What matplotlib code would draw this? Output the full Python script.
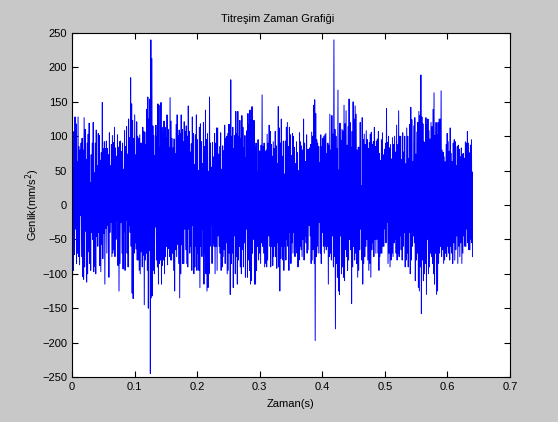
import numpy as np
import matplotlib
matplotlib.use("Agg")
import matplotlib.pyplot as plt

# Upper peaks of the signal (mm/s^2), read left to right
upper = [118, 60, 107, 128, 118, 63, 128, 85, 80, 90, 97, 80, 127, 110, 66, 90, 103, 119, 33, 73,
         90, 120, 47, 90, 109, 57, 104, 101, 65, 76, 149, 82, 92, 82, 93, 82, 73, 105, 57, 88,
         101, 91, 113, 83, 71, 102, 84, 92, 93, 78, 90, 52, 108, 85, 114, 74, 125, 98, 185, 147,
         123, 97, 131, 73, 121, 100, 97, 102, 90, 90, 113, 107, 106, 88, 139, 157, 125, 154, 240, 213,
         115, 101, 72, 116, 100, 147, 145, 84, 149, 113, 104, 122, 113, 98, 131, 110, 84, 156, 122, 97,
         83, 96, 75, 117, 131, 101, 109, 104, 131, 110, 92, 121, 107, 115, 100, 144, 107, 77, 89, 128,
         104, 59, 102, 131, 95, 50, 113, 118, 92, 60, 120, 85, 138, 95, 104, 49, 157, 90, 55, 91,
         70, 104, 90, 112, 112, 74, 85, 105, 52, 86, 79, 116, 97, 100, 104, 117, 117, 182, 100, 113,
         82, 101, 136, 104, 136, 100, 123, 97, 130, 113, 83, 101, 69, 108, 133, 117, 138, 124, 143, 123,
         123, 84, 90, 48, 95, 79, 78, 87, 160, 85, 90, 78, 80, 103, 90, 116, 107, 88, 71, 92,
         82, 107, 86, 60, 143, 112, 90,
         125, 71, 93, 45, 93, 113, 120, 85, 113, 102, 72, 104, 100, 84, 60, 92, 76, 50, 105, 92,
         86, 80, 125, 90, 63, 102, 81, 81, 83, 88, 106, 100, 145, 153, 133, 95, 90, 85, 62, 102,
         85, 97, 100, 102, 104, 75, 90, 87, 132, 80, 130, 103, 240, 110, 100, 82, 167, 51, 119, 94,
         110, 108, 145, 118, 137, 87, 114, 154, 120, 84, 107, 150, 125, 144, 132, 80, 84, 84, 120, 28,
         127, 95, 103, 88, 108, 95, 82, 91, 103, 106, 88, 92, 113, 85, 93, 96, 107, 75, 65, 95,
         105, 73, 81, 90, 140, 91, 100, 83, 88, 67, 98, 88, 100, 77, 116, 88, 137, 100, 100, 66,
         105, 77, 100, 60, 112, 100, 68, 117, 142, 124, 63, 115, 127, 74, 106, 120, 136, 130, 189, 128,
         118, 92, 91, 127, 117, 125, 108, 96, 120, 114, 139, 163, 101, 120, 102, 120, 125, 125, 166, 80,
         77, 70, 63, 88, 104, 92, 78, 112, 75, 63, 90, 95, 92, 57, 85, 87, 81, 70, 83, 74,
         75, 68, 92, 90, 107, 90, 76, 87, 95, 48]

# Lower troughs of the signal (mm/s^2), read left to right
lower = [-132, -95, -72, -35, -85, -70, -75, -87, -15, -75, -104, -108, -90, -38, -112, -100, -68, -85, -95, -40,
         -50, -97, -89, -100, -46, -60, -40, -88, -97, -57, -78, -41, -115, -34, -70, -30, -105, -40, -25, -75,
         -70, -65, -75, -50, -22, -88, -125, -85, -25, -70, -93, -39, -95, -22, -70, -90, -30, -40, -60, -128,
         -136, -70, -55, -64, -80, -80, -95, -100, -68, -90, -73, -145, -80, -70, -95, -150, -66, -245, -135, -132,
         -95, -100, -32, -80, -90, -115, -85, -80, -115, -88, -80, -100, -75, -60, -87, -63, -75, -80, -80, -70,
         -95, -125, -65, -75, -57, -85, -135, -100, -58, -85, -85, -35, -65, -85, -90, -35, -70, -60, -95, -30,
         -100, -90, -60, -95, -70, -95, -120, -60, -75, -35, -115, -70, -100, -125, -120, -100, -60, -30, -85, -55,
         -60, -100, -60, -95, -45, -60, -70, -95, -90, -75, -65, -85, -55, -100, -95, -70, -130, -85, -70, -120,
         -45, -100, -75, -115, -80, -60, -90, -100, -65, -90, -55, -105, -35, -105, -80, -95, -115, -110, -70, -50,
         -115, -115, -95, -60, -80, -70, -85, -55, -60, -70, -90, -85, -90, -80, -45, -60, -90, -60, -88, -75,
         -60, -75, -92, -55, -90, -125, -78,
         -60, -80, -95, -60, -80, -50, -60, -95, -40, -85, -55, -70, -40, -75, -60, -70, -90, -80, -60, -65,
         -75, -50, -80, -45, -55, -70, -65, -30, -45, -85, -80, -65, -85, -197, -75, -60, -70, -25, -70, -85,
         -40, -60, -70, -60, -65, -60, -115, -75, -70, -80, -45, -90, -75, -180, -85, -105, -125, -130, -45, -100,
         -90, -105, -110, -65, -75, -95, -80, -50, -65, -143, -90, -60, -80, -70, -85, -105, -95, -65, -35, -80,
         -115, -85, -75, -60, -50, -80, -95, -85, -105, -65, -55, -75, -50, -70, -50, -70, -95, -75, -70, -70,
         -60, -60, -35, -55, -25, -85, -70, -90, -80, -70, -75, -55, -50, -70, -80, -70, -75, -45, -65, -80,
         -60, -40, -90, -80, -70, -90, -40, -100, -80, -60, -45, -55, -110, -80, -70, -120, -125, -90, -158, -80,
         -110, -100, -85, -130, -50, -100, -90, -70, -75, -85, -100, -115, -70, -130, -125, -85, -70, -60, -75, -65,
         -85, -80, -70, -75, -60, -70, -80, -60, -70, -85, -55, -80, -65, -45, -85, -60, -75, -55, -85, -70,
         -45, -60, -60, -35, -55, -65, -65, -50, -55, -75]

t_end = 0.64
xticks = [0, 0.1, 0.2, 0.3, 0.4, 0.5, 0.6, 0.7]
yticks = [-250, -200, -150, -100, -50, 0, 50, 100, 150, 200, 250]

t_up = np.linspace(0, t_end, len(upper))
t_lo = np.linspace(0, t_end, len(lower)) + 0.5 * t_end / len(lower)
t_lo[-1] = t_end
t_all = np.concatenate([t_up, t_lo])
v_all = np.concatenate([upper, lower])
order = np.argsort(t_all, kind="stable")
t = t_all[order]
v = v_all[order]

plt.rcParams['font.family'] = ['Liberation Sans', 'DejaVu Sans']
fig = plt.figure(figsize=(5.58, 4.22), dpi=100, facecolor='#c8c8c8')
ax = fig.add_axes([0.129, 0.1066, 0.785, 0.8152])
ax.set_facecolor('white')
ax.plot(t, v, color='#0000ff', linewidth=0.7)
ax.set_xlim(0, 0.7)
ax.set_ylim(-250, 250)
ax.set_xticks(xticks)
ax.set_xticklabels([f"{x:g}" for x in xticks])
ax.set_yticks(yticks)
ax.tick_params(direction='in', top=True, right=True, labelsize=8, length=4, width=0.8)
for s in ax.spines.values():
    s.set_linewidth(0.8)
ax.set_title("Titreşim Zaman Grafiği", fontsize=8, pad=8, x=0.47)
ax.set_xlabel("Zaman(s)", fontsize=8, labelpad=5)
ax.set_ylabel("Genlik(mm/s$^2$)", fontsize=8, labelpad=0)
fig.savefig("out.png", dpi=100, facecolor=fig.get_facecolor())
